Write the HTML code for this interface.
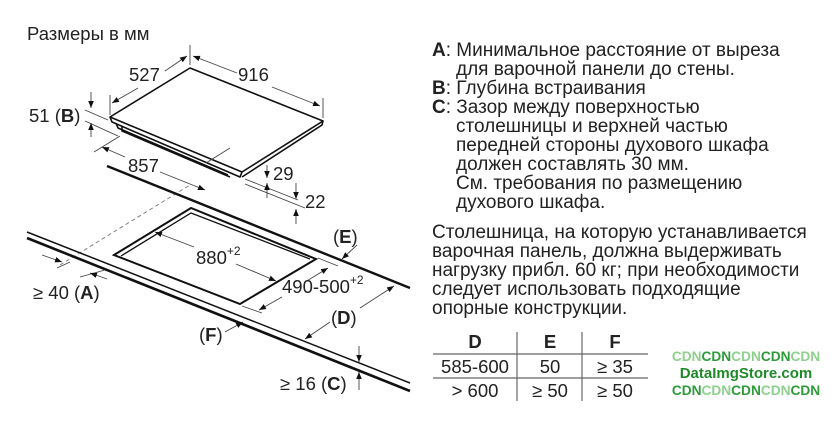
<!DOCTYPE html>
<html><head><meta charset="utf-8"><style>
html,body{margin:0;padding:0;background:#fff;}
svg{display:block;font-family:"Liberation Sans",Arial,sans-serif;}
</style></head><body>
<svg width="840" height="440" viewBox="0 0 840 440" xmlns="http://www.w3.org/2000/svg">
<defs>
<marker id="a" viewBox="0 0 10 10" refX="10" refY="5" markerWidth="7" markerHeight="7" orient="auto-start-reverse" markerUnits="userSpaceOnUse"><path d="M0,1 L10,5 L0,9 z" fill="#111"/></marker>
</defs>
<rect width="840" height="440" fill="#fff"/>
<text x="27" y="40" font-size="18.5" fill="#222">Размеры в мм</text>

<g fill="none" stroke="#111" stroke-width="1.6" stroke-linejoin="round">
<polygon points="110,117 190,68 323,121 242,172" fill="#fff"/>
<polyline points="110,117 112,122 240,177 242,172"/>
<polyline points="242,177 322,125 323,121"/>
<polyline points="116,123 118,128 228,175"/>
<polyline points="122,126 122,131 230,177"/>
</g>
<g stroke="#444" stroke-width="0.9" fill="none">
<line x1="110" y1="115" x2="110" y2="95"/>
<line x1="190" y1="65" x2="190" y2="45"/>
<line x1="323" y1="118" x2="323" y2="98"/>
<line x1="112" y1="103" x2="138" y2="88" marker-start="url(#a)"/>
<line x1="165" y1="71" x2="187" y2="56" marker-end="url(#a)"/>
<line x1="193" y1="56" x2="237" y2="73" marker-start="url(#a)"/>
<line x1="272" y1="87" x2="320" y2="106" marker-end="url(#a)"/>
<line x1="85" y1="110" x2="108" y2="120"/>
<line x1="85" y1="121" x2="118" y2="136"/>
<line x1="91" y1="92" x2="91" y2="108" marker-end="url(#a)"/>
<line x1="91" y1="137" x2="91" y2="123" marker-end="url(#a)"/>
<line x1="94" y1="152" x2="120" y2="136"/>
<line x1="206" y1="163" x2="230" y2="148"/>
<line x1="102" y1="147" x2="125" y2="157" marker-start="url(#a)"/>
<line x1="160" y1="172" x2="205" y2="190" marker-end="url(#a)"/>
<line x1="245" y1="179" x2="298" y2="200"/>
<line x1="245" y1="184" x2="305" y2="208"/>
<line x1="267" y1="165" x2="267" y2="178" marker-end="url(#a)"/>
<line x1="267" y1="198" x2="267" y2="183" marker-end="url(#a)"/>
<line x1="296" y1="183" x2="296" y2="199" marker-end="url(#a)"/>
<line x1="296" y1="224" x2="296" y2="209" marker-end="url(#a)"/>
<line x1="60" y1="265" x2="190" y2="185" stroke-dasharray="4,3" stroke="#777"/>
</g>
<g font-size="18.5" fill="#222">
<text x="129" y="81">527</text>
<text x="238" y="81">916</text>
<text x="29" y="122">51 (<tspan font-weight="bold">B</tspan>)</text>
<text x="128" y="172">857</text>
<text x="273" y="180">29</text>
<text x="305" y="208">22</text>
</g>

<g stroke="#111" fill="none">
<line x1="107" y1="166" x2="410" y2="288" stroke-width="2.4"/>
<line x1="27" y1="232" x2="410" y2="383" stroke-width="1.5"/>
<line x1="27" y1="238" x2="410" y2="391" stroke-width="2.6"/>
<polygon points="114,255 191,208 316,259 240,304" stroke-width="2"/>
<polyline points="121,256 191,213 310,259" stroke-width="1.3"/>
</g>
<g stroke="#444" stroke-width="0.9" fill="none">
<line x1="42" y1="255" x2="62" y2="262" marker-end="url(#a)"/>
<line x1="57" y1="268" x2="70" y2="262"/>
<line x1="80" y1="277" x2="105" y2="270"/>
<line x1="107" y1="279" x2="90" y2="273" marker-end="url(#a)"/>
<line x1="155" y1="232" x2="194" y2="247" marker-start="url(#a)"/>
<line x1="236" y1="264" x2="276" y2="281" marker-end="url(#a)"/>
<line x1="318" y1="258" x2="338" y2="266"/>
<line x1="242" y1="306" x2="262" y2="313"/>
<line x1="259" y1="310" x2="282" y2="297" marker-start="url(#a)"/>
<line x1="305" y1="282" x2="328" y2="268" marker-end="url(#a)"/>
<line x1="357" y1="245" x2="342" y2="259" marker-end="url(#a)"/>
<line x1="305" y1="339" x2="330" y2="322" marker-start="url(#a)"/>
<line x1="360" y1="308" x2="394" y2="286" marker-end="url(#a)"/>
<line x1="225" y1="332" x2="243" y2="322" marker-end="url(#a)"/>
<line x1="359" y1="346" x2="359" y2="362" marker-end="url(#a)"/>
<line x1="359" y1="390" x2="359" y2="372" marker-end="url(#a)"/>
</g>
<g font-size="18.5" fill="#222">
<text x="196" y="264">880<tspan font-size="12" dy="-9">+2</tspan></text>
<text x="282" y="293">490-500<tspan font-size="12" dy="-9">+2</tspan></text>
<text x="333" y="243">(<tspan font-weight="bold">E</tspan>)</text>
<text x="33" y="299">≥ 40 (<tspan font-weight="bold">A</tspan>)</text>
<text x="199" y="341">(<tspan font-weight="bold">F</tspan>)</text>
<text x="331" y="324">(<tspan font-weight="bold">D</tspan>)</text>
<text x="280" y="390">≥ 16 (<tspan font-weight="bold">C</tspan>)</text>
</g>

<g font-size="19" fill="#222">
<text x="432" y="56"><tspan font-weight="bold">A</tspan>: Минимальное расстояние от выреза</text>
<text x="456" y="75">для варочной панели до стены.</text>
<text x="432" y="94"><tspan font-weight="bold">B</tspan>: Глубина встраивания</text>
<text x="432" y="113"><tspan font-weight="bold">C</tspan>: Зазор между поверхностью</text>
<text x="456" y="132">столешницы и верхней частью</text>
<text x="456" y="151">передней стороны духового шкафа</text>
<text x="456" y="170">должен составлять 30 мм.</text>
<text x="456" y="189">См. требования по размещению</text>
<text x="456" y="208">духового шкафа.</text>
<text x="432" y="238">Столешница, на которую устанавливается</text>
<text x="432" y="257">варочная панель, должна выдерживать</text>
<text x="432" y="276">нагрузку прибл. 60 кг; при необходимости</text>
<text x="432" y="295">следует использовать подходящие</text>
<text x="432" y="314">опорные конструкции.</text>
</g>

<g stroke="#666" stroke-width="1.2">
<line x1="433" y1="354" x2="648" y2="354"/>
<line x1="433" y1="378" x2="648" y2="378"/>
<line x1="517" y1="332" x2="517" y2="401"/>
<line x1="582" y1="332" x2="582" y2="401"/>
</g>
<g font-size="18.5" fill="#222" text-anchor="middle">
<text x="475" y="348" font-weight="bold">D</text>
<text x="550" y="348" font-weight="bold">E</text>
<text x="615" y="348" font-weight="bold">F</text>
<text x="475" y="373">585-600</text>
<text x="550" y="373">50</text>
<text x="615" y="373">≥ 35</text>
<text x="475" y="397">&gt; 600</text>
<text x="550" y="397">≥ 50</text>
<text x="615" y="397">≥ 50</text>
</g>

<g font-size="13.7" font-weight="bold" text-anchor="middle">
<text x="746" y="361"><tspan fill="#8fd08f">CDN</tspan><tspan fill="#2e9a3a">CDN</tspan><tspan fill="#8fd08f">CDN</tspan><tspan fill="#2e9a3a">CDN</tspan><tspan fill="#8fd08f">CDN</tspan></text>
<text x="746" y="378" fill="#1f8a2a" font-size="15">DataImgStore.com</text>
<text x="746" y="395"><tspan fill="#2e9a3a">CDN</tspan><tspan fill="#8fd08f">CDN</tspan><tspan fill="#2e9a3a">CDN</tspan><tspan fill="#8fd08f">CDN</tspan><tspan fill="#2e9a3a">CDN</tspan></text>
</g>
</svg>
</body></html>
